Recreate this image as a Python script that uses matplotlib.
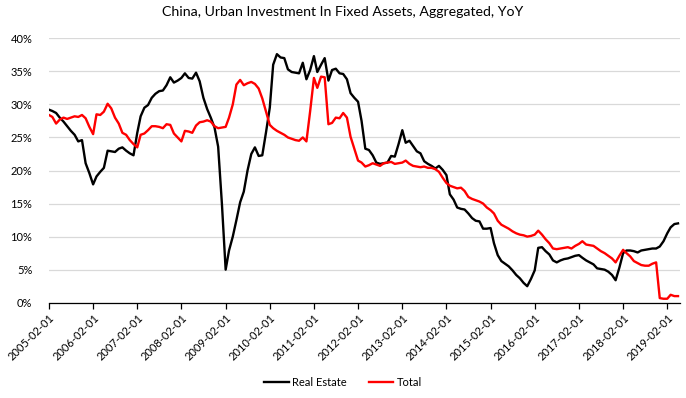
import pandas as pd
import numpy as np
import matplotlib.pyplot as plt
import matplotlib.ticker as mticker

# monthly YoY growth (%), Feb 2005 .. May 2019, one list per calendar year
real_estate_2005 = [29.2, 29.0, 28.7, 28.0, 27.4, 26.7, 26.0, 25.4, 24.4, 24.6, 21.1]
real_estate_2006 = [19.6, 17.9, 19.1, 19.8, 20.4, 23.0, 22.9, 22.8, 23.3, 23.5, 23.0, 22.6]
real_estate_2007 = [22.3, 25.7, 28.2, 29.5, 29.9, 31.0, 31.6, 32.0, 32.1, 32.9, 34.1, 33.3]
real_estate_2008 = [33.6, 34.0, 34.7, 34.0, 33.9, 34.8, 33.5, 31.0, 29.3, 28.0, 26.5, 23.6]
real_estate_2009 = [15.0, 5.0, 7.9, 10.0, 12.5, 15.2, 16.8, 20.0, 22.5, 23.5, 22.2, 22.3]
real_estate_2010 = [25.8, 29.5, 36.0, 37.6, 37.1, 37.0, 35.3, 34.9, 34.8, 34.7, 36.3, 33.8]
real_estate_2011 = [35.2, 37.3, 34.9, 36.0, 37.0, 33.6, 35.2, 35.4, 34.7, 34.6, 33.8, 31.7]
real_estate_2012 = [31.0, 30.4, 27.5, 23.3, 23.1, 22.3, 21.2, 21.0, 21.1, 21.2, 22.2, 22.1]
real_estate_2013 = [24.0, 26.1, 24.2, 24.5, 23.7, 22.9, 22.6, 21.4, 21.0, 20.7, 20.3, 20.7]
real_estate_2014 = [20.1, 19.3, 16.4, 15.6, 14.4, 14.2, 14.1, 13.5, 12.8, 12.4, 12.3, 11.2]
real_estate_2015 = [11.2, 11.3, 9.0, 7.2, 6.3, 5.9, 5.5, 4.9, 4.2, 3.7, 3.0, 2.5]
real_estate_2016 = [3.6, 4.9, 8.3, 8.4, 7.8, 7.3, 6.4, 6.1, 6.4, 6.6, 6.7, 6.9]
real_estate_2017 = [7.1, 7.2, 6.8, 6.4, 6.1, 5.8, 5.2, 5.1, 5.0, 4.7, 4.2, 3.4]
real_estate_2018 = [5.3, 7.5, 7.9, 7.9, 7.8, 7.6, 7.9, 8.0, 8.1, 8.2, 8.2, 8.5]
real_estate_2019 = [9.3, 10.5, 11.4, 11.9, 12.0]

total_2005 = [28.4, 28.1, 27.1, 27.7, 28.0, 27.8, 28.0, 28.2, 28.1, 28.4, 27.9]
total_2006 = [26.6, 25.5, 28.5, 28.4, 28.9, 30.1, 29.4, 28.0, 27.1, 25.7, 25.4, 24.6]
total_2007 = [24.0, 23.5, 25.4, 25.6, 26.1, 26.7, 26.7, 26.6, 26.4, 27.0, 26.9, 25.6]
total_2008 = [25.0, 24.4, 26.0, 25.9, 25.7, 26.8, 27.3, 27.4, 27.6, 27.4, 26.7, 26.4]
total_2009 = [26.5, 26.6, 28.0, 30.0, 33.0, 33.7, 32.9, 33.2, 33.4, 33.1, 32.4, 30.9]
total_2010 = [28.9, 26.9, 26.4, 26.0, 25.7, 25.4, 25.0, 24.8, 24.6, 24.5, 25.0, 24.4]
total_2011 = [29.0, 34.0, 32.5, 34.2, 34.1, 27.0, 27.2, 28.0, 27.9, 28.7, 28.0, 25.1]
total_2012 = [23.3, 21.5, 21.2, 20.6, 20.8, 21.1, 20.9, 20.7, 21.1, 21.2, 21.3, 21.0]
total_2013 = [21.1, 21.2, 21.5, 21.0, 20.7, 20.6, 20.5, 20.6, 20.4, 20.4, 20.2, 19.8]
total_2014 = [18.9, 18.1, 17.7, 17.5, 17.3, 17.4, 16.9, 16.0, 15.7, 15.5, 15.3, 15.0]
total_2015 = [14.4, 14.0, 13.5, 12.4, 11.8, 11.5, 11.2, 10.8, 10.5, 10.3, 10.2, 10.0]
total_2016 = [10.1, 10.3, 10.9, 10.3, 9.6, 9.0, 8.2, 8.1, 8.2, 8.3, 8.4, 8.2]
total_2017 = [8.6, 8.9, 9.3, 8.8, 8.7, 8.6, 8.2, 7.8, 7.5, 7.1, 6.7, 6.1]
total_2018 = [7.1, 8.0, 7.5, 7.0, 6.3, 6.0, 5.7, 5.6, 5.6, 5.9, 6.1, 0.7]
total_2019 = [0.6, 0.6, 1.2, 1.0, 1.0]

real_estate = (real_estate_2005 + real_estate_2006 + real_estate_2007 + real_estate_2008
               + real_estate_2009 + real_estate_2010 + real_estate_2011 + real_estate_2012
               + real_estate_2013 + real_estate_2014 + real_estate_2015 + real_estate_2016
               + real_estate_2017 + real_estate_2018 + real_estate_2019)
total = (total_2005 + total_2006 + total_2007 + total_2008 + total_2009 + total_2010
         + total_2011 + total_2012 + total_2013 + total_2014 + total_2015 + total_2016
         + total_2017 + total_2018 + total_2019)

dates = pd.date_range('2005-02-01', periods=len(real_estate), freq='MS')
tick_dates = pd.date_range('2005-02-01', '2019-02-01', freq='12MS')

plt.rcParams['font.family'] = ['Lato', 'DejaVu Sans']

fig = plt.figure(figsize=(6.86, 3.98), dpi=100)
ax = fig.add_axes([0.0714, 0.2394, 0.9196, 0.6644])

ax.plot(dates, np.array(real_estate) / 100, color='black', lw=1.7, label='Real Estate')
ax.plot(dates, np.array(total) / 100, color='#FF0000', lw=1.7, label='Total')

ax.set_ylim(0, 0.40)
ax.set_yticks(np.arange(0, 0.401, 0.05))
ax.yaxis.set_major_formatter(mticker.PercentFormatter(1.0, decimals=0))
ax.grid(axis='y', color='#D9D9D9', lw=0.9)
ax.set_axisbelow(True)

ax.set_xlim(dates[0], pd.Timestamp('2019-05-16'))
ax.set_xticks(tick_dates)
ax.set_xticklabels([d.strftime('%Y-%m-%d') for d in tick_dates], rotation=45,
                   ha='right', rotation_mode='anchor')

for s in ['top', 'right', 'left']:
    ax.spines[s].set_visible(False)
ax.spines['bottom'].set_color('black')
ax.spines['bottom'].set_linewidth(0.9)
ax.tick_params(axis='x', length=4, width=0.9, color='black', labelsize=8, pad=3)
ax.tick_params(axis='y', length=0, labelsize=8, pad=12)

fig.suptitle('China, Urban Investment In Fixed Assets, Aggregated, YoY', fontsize=10.2,
             y=0.985)
fig.legend(loc='lower center', bbox_to_anchor=(0.5, 0.0), ncol=2, frameon=False,
           fontsize=8, handlelength=2.2, columnspacing=2.0, handletextpad=0.3)

fig.savefig('out.png', dpi=100)
plt.close()
